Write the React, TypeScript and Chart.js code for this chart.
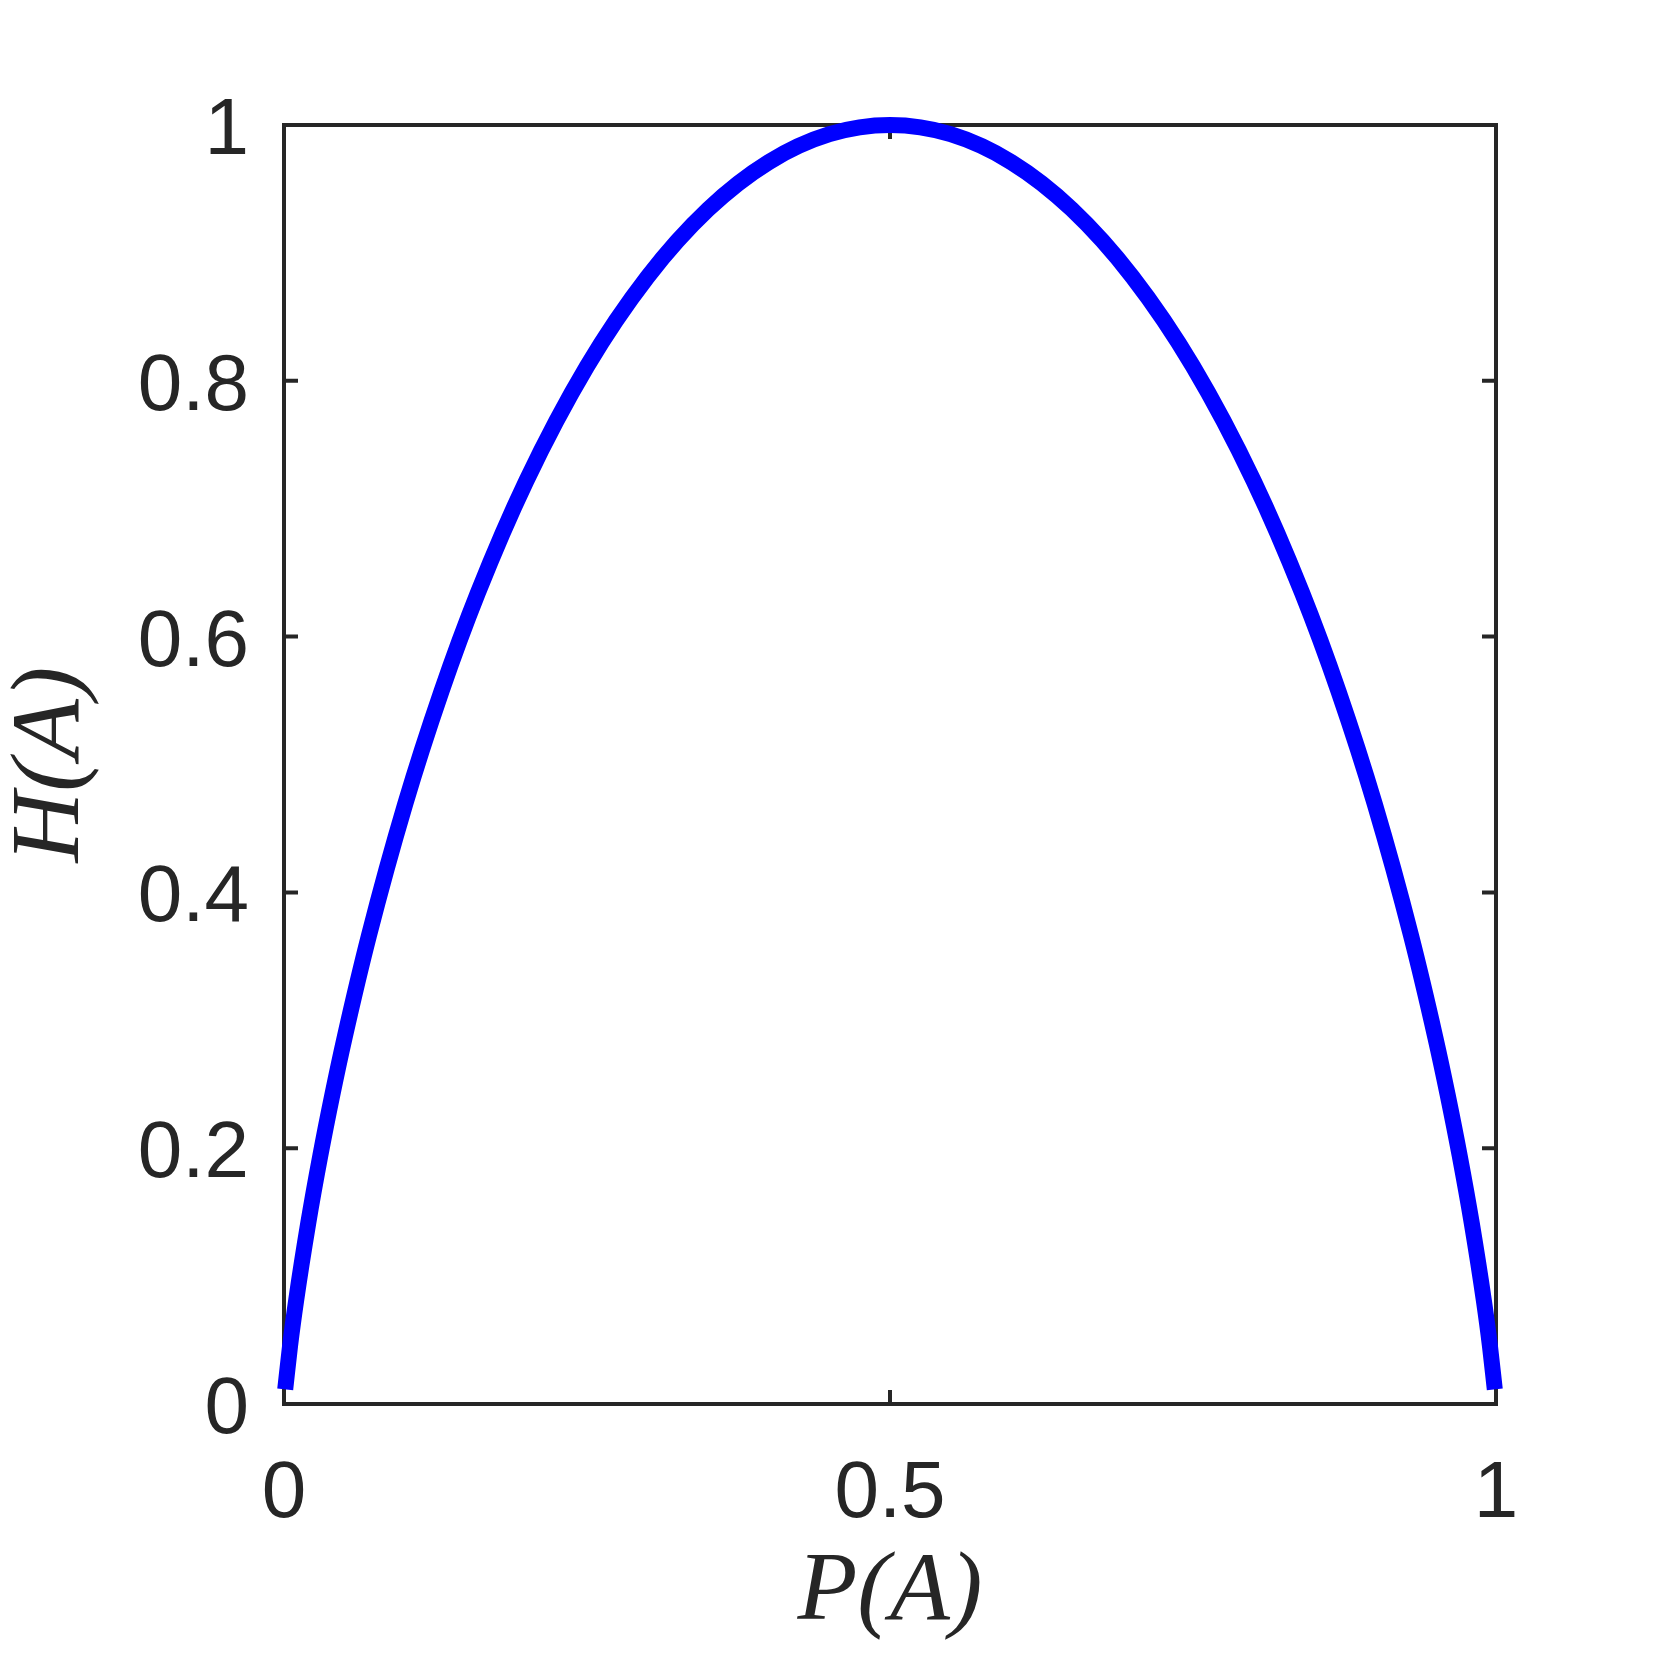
import React, { useEffect, useRef } from "react";
import { Chart, registerables } from "chart.js";

Chart.register(...registerables);

const pValues = [
  0.001, 0.005, 0.01, 0.02, 0.03, 0.04, 0.05, 0.07, 0.1, 0.13, 0.16, 0.2, 0.25, 0.3, 0.35, 0.4, 0.45, 0.5,
  0.55, 0.6, 0.65, 0.7, 0.75, 0.8, 0.84, 0.87, 0.9, 0.93, 0.95, 0.96, 0.97, 0.98, 0.99, 0.995, 0.999,
];
const hValues = [
  0.0114, 0.0454, 0.0808, 0.1414, 0.1944, 0.2423, 0.2864, 0.3659, 0.469, 0.5574, 0.6343, 0.7219, 0.8113, 0.8813, 0.9341, 0.971, 0.9928, 1.0,
  0.9928, 0.971, 0.9341, 0.8813, 0.8113, 0.7219, 0.6343, 0.5574, 0.469, 0.3659, 0.2864, 0.2423, 0.1944, 0.1414, 0.0808, 0.0454, 0.0114,
];
const xTickLabels = ["0", "0.5", "1"];
const yTickLabels = ["0", "0.2", "0.4", "0.6", "0.8", "1"];
const xTitle = "P(A)";
const yTitle = "H(A)";

const AXIS_COLOR = "#262626";

const boxPlugin = {
  id: "boxTicks",
  beforeDatasetsDraw(chart: any) {
    const { ctx, chartArea } = chart;
    const { left, right, top, bottom } = chartArea;
    const xs = chart.scales.x;
    const ys = chart.scales.y;
    const tl = 14;
    ctx.save();
    ctx.strokeStyle = AXIS_COLOR;
    ctx.lineWidth = 4;
    ctx.lineCap = "butt";
    ctx.beginPath();
    ctx.rect(left, top, right - left, bottom - top);
    ctx.stroke();
    ctx.beginPath();
    xs.ticks.forEach((t: any) => {
      const px = xs.getPixelForValue(t.value);
      ctx.moveTo(px, bottom);
      ctx.lineTo(px, bottom - tl);
      ctx.moveTo(px, top);
      ctx.lineTo(px, top + tl);
    });
    ys.ticks.forEach((t: any) => {
      const py = ys.getPixelForValue(t.value);
      ctx.moveTo(left, py);
      ctx.lineTo(left + tl, py);
      ctx.moveTo(right, py);
      ctx.lineTo(right - tl, py);
    });
    ctx.stroke();
    ctx.restore();
  },
};

export default function App() {
  const ref = useRef<HTMLCanvasElement | null>(null);
  useEffect(() => {
    if (!ref.current) return;
    const data = pValues.map((p, i) => ({ x: p, y: hValues[i] }));
    const tickFont = { family: "'Liberation Sans', Arial, sans-serif", size: 80 };
    const titleFont = { family: "'Liberation Serif', 'Times New Roman', serif", size: 98, style: "italic" as const, lineHeight: 0.8 };
    const chart = new Chart(ref.current, {
      type: "line",
      data: {
        datasets: [
          {
            data,
            borderColor: "#0000ff",
            borderWidth: 16,
            pointRadius: 0,
            cubicInterpolationMode: "monotone",
            fill: false,
            clip: false as any,
            borderCapStyle: "butt",
          },
        ],
      },
      options: {
        animation: false,
        responsive: false,
        devicePixelRatio: 1,
        layout: { padding: { left: 0, top: 125, right: 158, bottom: 0 } },
        plugins: { legend: { display: false }, tooltip: { enabled: false } },
        scales: {
          x: {
            type: "linear",
            min: 0,
            max: 1,
            grid: { display: false, drawTicks: false },
            border: { display: false },
            ticks: {
              stepSize: 0.5,
              font: tickFont,
              color: AXIS_COLOR,
              padding: 43,
              maxRotation: 0,
              callback: (_v: any, i: number) => xTickLabels[i],
            },
            title: { display: true, text: xTitle, font: titleFont, color: AXIS_COLOR, padding: { top: 0, bottom: 22 } },
            afterFit: (s: any) => {
              s.height = 250;
            },
          },
          y: {
            type: "linear",
            min: 0,
            max: 1,
            grid: { display: false, drawTicks: false },
            border: { display: false },
            ticks: {
              stepSize: 0.2,
              font: tickFont,
              color: AXIS_COLOR,
              padding: 35,
              labelOffset: 7,
              callback: (_v: any, i: number) => yTickLabels[i],
            },
            title: { display: true, text: yTitle, font: titleFont, color: AXIS_COLOR, padding: { top: 13, bottom: 0 } },
            afterFit: (s: any) => {
              s.width = 284;
            },
          },
        },
      },
      plugins: [boxPlugin],
    });
    return () => chart.destroy();
  }, []);
  return (
    <div style={{ position: "absolute", left: 0, top: 0, width: 1654, height: 1654, background: "#fff" }}>
      <canvas ref={ref} width={1654} height={1654} style={{ width: 1654, height: 1654 }} />
    </div>
  );
}
